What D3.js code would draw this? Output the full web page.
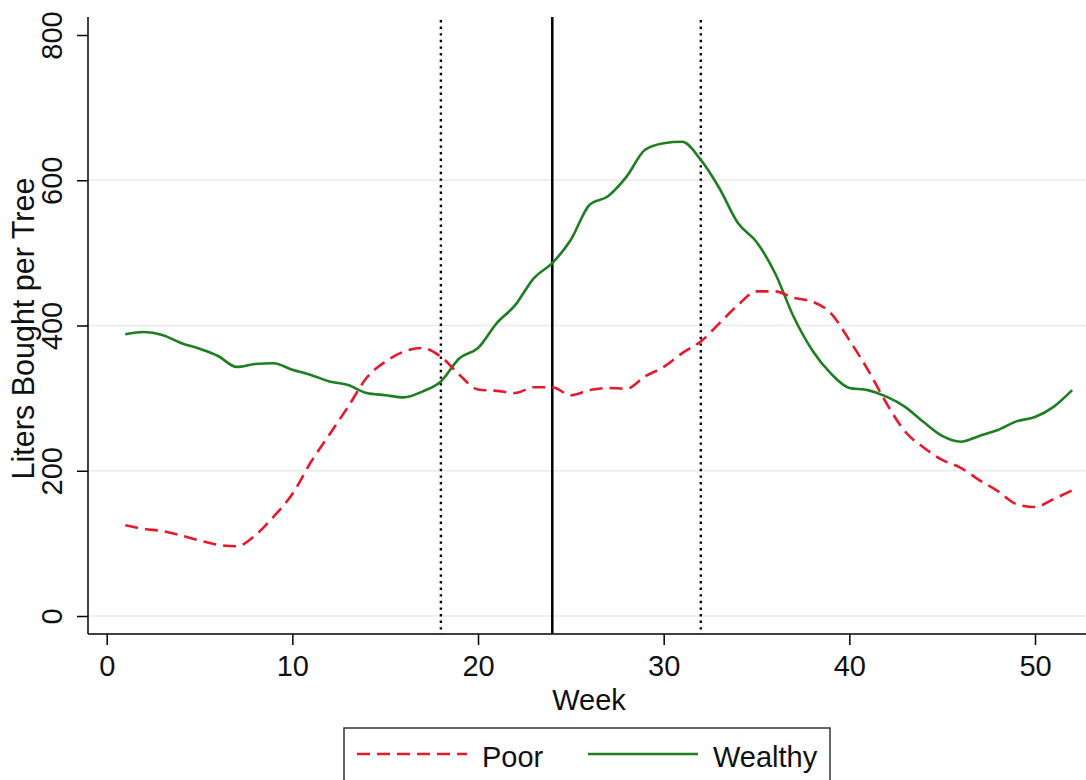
<!DOCTYPE html>
<html>
<head>
<meta charset="utf-8">
<script src="https://cdn.jsdelivr.net/npm/d3@7"></script>
<style>
  body { margin: 0; background: #fff; }
  svg { display: block; font-family: "Liberation Sans", Arial, sans-serif; }
</style>
</head>
<body>
<div id="chart"></div>
<script>
// weekly values
const weeks = [1, 2, 3, 4, 5, 6, 7, 8, 9, 10, 11, 12, 13, 14, 15, 16, 17, 18, 19, 20, 21, 22, 23, 24, 25, 26,
    27, 28, 29, 30, 31, 32, 33, 34, 35, 36, 37, 38, 39, 40, 41, 42, 43, 44, 45, 46, 47, 48, 49, 50, 51, 52]
const poor = [125, 120, 117, 111, 104, 98, 96, 111, 137, 168, 212, 250, 288, 328, 350, 364, 369, 357, 332, 312,
    310, 307, 315, 315, 304, 311, 314, 313, 330, 343, 362, 378, 403, 428, 447, 447, 438, 433, 417, 380,
    339, 293, 254, 232, 215, 204, 187, 172, 154, 150, 161, 173]
const wealthy = [388, 391, 387, 376, 368, 358, 343, 347, 348, 339, 332, 323, 318, 307, 304, 301, 309, 323, 355, 369,
    403, 428, 465, 486, 518, 566, 578, 605, 642, 651, 653, 628, 589, 541, 515, 472, 412, 366, 334, 314,
    311, 302, 288, 267, 248, 240, 248, 256, 268, 274, 288, 311]

const xTicks = [0, 10, 20, 30, 40, 50]
const yTicks = [0, 200, 400, 600, 800]
const gridValues = [0, 200, 400, 600]
const dottedWeeks = [18, 32]
const solidWeek = 24

const seriesNames = ["Poor", "Wealthy"]
const colors = {Poor: "#e8182c", Wealthy: "#1e7e22"}

const width = 1086
const height = 780
const plot = {left: 88, right: 1086, top: 17, bottom: 634}
const font = 29

const x = d3.scaleLinear().domain([0, 50]).range([106.7, 1035])
const y = d3.scaleLinear().domain([0, 800]).range([616, 35])

const svg = d3.select("#chart").append("svg")
    .attr("width", width)
    .attr("height", height)

// grid
svg.append("g")
    .selectAll("line")
    .data(gridValues)
    .join("line")
    .attr("x1", plot.left)
    .attr("x2", plot.right)
    .attr("y1", d => y(d))
    .attr("y2", d => y(d))
    .attr("stroke", "#eaeaea")
    .attr("stroke-width", 1.5)

// reference lines
svg.append("g")
    .selectAll("line")
    .data(dottedWeeks)
    .join("line")
    .attr("x1", d => x(d))
    .attr("x2", d => x(d))
    .attr("y1", 20)
    .attr("y2", plot.bottom)
    .attr("stroke", "#000")
    .attr("stroke-width", 2.4)
    .attr("stroke-dasharray", "2.4,4.2")

svg.append("line")
    .attr("x1", x(solidWeek))
    .attr("x2", x(solidWeek))
    .attr("y1", plot.top)
    .attr("y2", plot.bottom)
    .attr("stroke", "#000")
    .attr("stroke-width", 2.5)

// series
const line = d3.line()
    .x(d => x(d[0]))
    .y(d => y(d[1]))
    .curve(d3.curveMonotoneX)

svg.append("path")
    .datum(d3.zip(weeks, wealthy))
    .attr("fill", "none")
    .attr("stroke", colors.Wealthy)
    .attr("stroke-width", 2.6)
    .attr("d", line)

svg.append("path")
    .datum(d3.zip(weeks, poor))
    .attr("fill", "none")
    .attr("stroke", colors.Poor)
    .attr("stroke-width", 2.6)
    .attr("stroke-dasharray", "13,7")
    .attr("d", line)

// axes
const xAxis = svg.append("g")
    .attr("transform", `translate(0, ${plot.bottom})`)
    .call(d3.axisBottom(x).tickValues(xTicks).tickSize(11).tickPadding(10).tickSizeOuter(0))
xAxis.select(".domain").attr("d", `M${plot.left},0H${plot.right}`).attr("stroke-width", 1.5)
xAxis.selectAll(".tick line").attr("stroke-width", 1.5)
xAxis.selectAll("text")
    .attr("font-size", font)
    .attr("font-family", "Liberation Sans, Arial, sans-serif")
    .attr("fill", "#111")

const yAxis = svg.append("g")
    .attr("transform", `translate(${plot.left}, 0)`)
    .call(d3.axisLeft(y).tickValues(yTicks).tickSize(11).tickSizeOuter(0))
yAxis.select(".domain").attr("d", `M0,${plot.top}V${plot.bottom}`).attr("stroke-width", 1.5)
yAxis.selectAll(".tick line").attr("stroke-width", 1.5)
yAxis.selectAll("text")
    .attr("font-size", font)
    .attr("font-family", "Liberation Sans, Arial, sans-serif")
    .attr("fill", "#111")
    .attr("x", 0)
    .attr("dy", 0)
    .attr("text-anchor", "middle")
    .attr("transform", "translate(-26, 0) rotate(-90)")

svg.append("text")
    .attr("x", (plot.left + plot.right) / 2 + 2)
    .attr("y", 710)
    .attr("text-anchor", "middle")
    .attr("font-size", font)
    .attr("fill", "#111")
    .text("Week")

svg.append("text")
    .attr("transform", `translate(34, ${(plot.top + plot.bottom) / 2 + 3}) rotate(-90)`)
    .attr("text-anchor", "middle")
    .attr("font-size", font + 1.5)
    .attr("fill", "#111")
    .text("Liters Bought per Tree")

// legend
const legend = svg.append("g")
legend.append("rect")
    .attr("x", 344)
    .attr("y", 728)
    .attr("width", 486)
    .attr("height", 70)
    .attr("fill", "#fff")
    .attr("stroke", "#333")
    .attr("stroke-width", 1.5)

const legendItems = [
    {name: seriesNames[0], x0: 357, dash: "13,7"},
    {name: seriesNames[1], x0: 588, dash: null}
]
legendItems.forEach(item => {
    legend.append("line")
        .attr("x1", item.x0)
        .attr("x2", item.x0 + 110)
        .attr("y1", 754)
        .attr("y2", 754)
        .attr("stroke", colors[item.name])
        .attr("stroke-width", 2.6)
        .attr("stroke-dasharray", item.dash)
    legend.append("text")
        .attr("x", item.x0 + 125)
        .attr("y", 767)
        .attr("font-size", font)
        .attr("fill", "#111")
        .text(item.name)
})
</script>
</body>
</html>
